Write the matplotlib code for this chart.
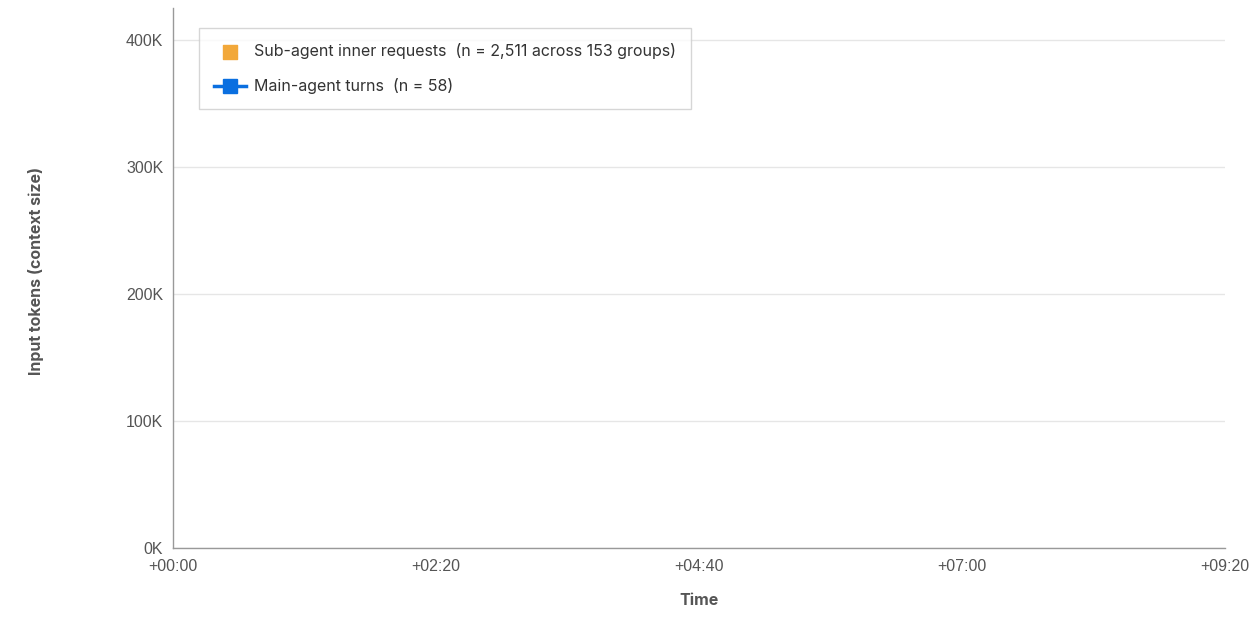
import matplotlib
matplotlib.use("Agg")
import matplotlib.pyplot as plt
from matplotlib.ticker import FuncFormatter, FixedLocator

# Data (no visible marks in the reference chart)
sub_times = []      # minutes since start
sub_tokens = []
main_times = []
main_tokens = []
x_ticks = [0, 140, 280, 420, 560]
y_ticks = [0, 100000, 200000, 300000, 400000]
sub_label = "Sub-agent inner requests  (n = 2,511 across 153 groups)"
main_label = "Main-agent turns  (n = 58)"

plt.rcParams['font.family'] = ['Liberation Sans', 'DejaVu Sans']

fig = plt.figure(figsize=(12.57, 6.21), dpi=100)
ax = fig.add_axes([173/1257, 73/621, 1052/1257, 540/621])

ax.scatter(sub_times, sub_tokens, marker='s', s=110, color='#F2A83A', label=sub_label)
ax.plot(main_times, main_tokens, marker='s', markersize=10, color='#0A6FE0', lw=2.5, label=main_label)

ax.set_xlim(0, 560)
ax.set_ylim(0, 425000)
ax.xaxis.set_major_locator(FixedLocator(x_ticks))
ax.yaxis.set_major_locator(FixedLocator(y_ticks))
ax.xaxis.set_major_formatter(FuncFormatter(lambda v, p: "+%02d:%02d" % (int(v) // 60, int(v) % 60)))
ax.yaxis.set_major_formatter(FuncFormatter(lambda v, p: "%dK" % (v / 1000)))

ax.grid(axis='y', color='#e6e6e6', lw=1)
ax.set_axisbelow(True)
for s in ['top', 'right']:
    ax.spines[s].set_visible(False)
for s in ['left', 'bottom']:
    ax.spines[s].set_color('#999999')
    ax.spines[s].set_linewidth(1)
ax.tick_params(length=0, labelsize=11.5, colors='#555555')
ax.tick_params(axis='x', pad=8)
ax.tick_params(axis='y', pad=7)

ax.set_xlabel("Time", fontsize=11.5, fontweight='bold', color='#555555', family=['Inter', 'DejaVu Sans'])
ax.xaxis.set_label_coords(0.5, -0.083)
ax.set_ylabel("Input tokens (context size)", fontsize=11.5, fontweight='bold', color='#555555', family=['Inter', 'DejaVu Sans'])
ax.yaxis.set_label_coords(-0.123, 0.513)

leg = ax.legend(loc='upper left', bbox_to_anchor=(0.0247, 0.963), borderaxespad=0,
                prop={'family': ['Inter', 'DejaVu Sans'], 'size': 11.5},
                frameon=True, fancybox=False, edgecolor='#cccccc', handlelength=2.0,
                borderpad=0.95, labelspacing=1.2, handletextpad=0.5)
leg.get_frame().set_linewidth(1)
for t in leg.get_texts():
    t.set_color('#333333')

fig.savefig("out.png", dpi=100)
